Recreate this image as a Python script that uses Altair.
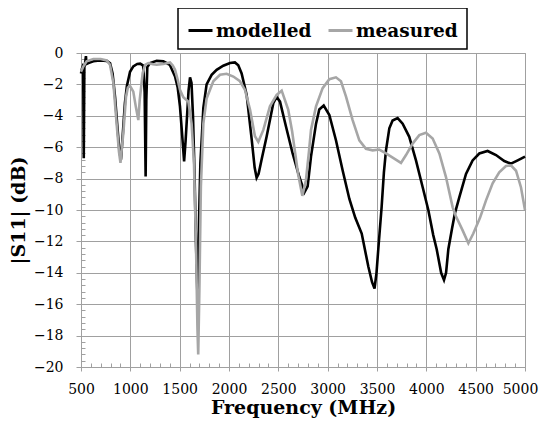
import altair as alt
import pandas as pd

# modelled (black)
mod_f = [500, 510, 518, 522, 528, 534, 542, 550, 556, 575, 625, 690, 760, 795, 820, 845, 870, 890, 905, 920, 945, 965, 997,
         1030, 1070, 1100, 1130, 1145, 1155, 1162, 1172, 1200, 1267, 1334, 1400, 1453, 1480, 1503, 1525, 1545, 1560, 1575,
         1590, 1605, 1620, 1635, 1650, 1665, 1680, 1695, 1710, 1725, 1740, 1773, 1824, 1875, 1942, 2010, 2060, 2094, 2128,
         2179, 2230, 2260, 2280, 2300, 2330, 2382, 2449, 2483, 2517, 2578, 2645, 2713, 2765, 2797, 2831, 2882, 2915, 2960,
         3017, 3084, 3152, 3220, 3280, 3345, 3412, 3450, 3475, 3495, 3513, 3547, 3570, 3591, 3625, 3658, 3709, 3760, 3827,
         3895, 3963, 4020, 4070, 4105, 4150, 4179, 4200, 4223, 4260, 4290, 4334, 4402, 4469, 4537, 4621, 4706, 4790, 4858,
         4926, 5000]
mod_db = [-1.3, -1.0, -0.85, -0.9, -6.7, -0.9, -0.6, -0.2, -0.7, -0.64, -0.52, -0.47, -0.5, -0.65, -1.3, -2.8, -4.8, -6.3,
          -6.8, -5.5, -3.2, -2.1, -1.2, -0.85, -0.7, -0.68, -0.8, -2.5, -7.86, -3.0, -0.9, -0.64, -0.5, -0.53, -0.75, -1.5,
          -2.2, -3.4, -5.2, -6.9, -5.6, -4.0, -2.4, -1.55, -1.9, -4.0, -7.5, -12.0, -15.4, -11.0, -7.0, -5.3, -3.5, -2.0,
          -1.39, -1.07, -0.81, -0.64, -0.6, -0.78, -1.3, -2.67, -5.5, -7.3, -7.95, -7.7, -6.8, -5.3, -3.2, -2.8, -3.1, -4.7,
          -6.4, -7.9, -8.87, -8.5, -6.6, -4.5, -3.6, -3.35, -3.95, -5.56, -7.48, -9.3, -10.5, -11.5, -13.6, -14.6, -15.0,
          -14.0, -12.5, -9.8, -7.6, -6.2, -4.8, -4.3, -4.15, -4.5, -5.34, -6.84, -8.55, -10.0, -11.6, -12.5, -14.0, -14.46,
          -14.0, -12.5, -11.2, -10.2, -9.2, -7.7, -6.84, -6.4, -6.24, -6.5, -6.88, -7.05, -6.84, -6.6]

# measured (grey)
mea_f = [500, 520, 557, 625, 700, 760, 794, 828, 861, 885, 900, 915, 929, 956, 975, 997, 1030, 1055, 1081, 1095, 1125,
         1150, 1182, 1230, 1267, 1334, 1402, 1430, 1453, 1480, 1503, 1537, 1588, 1621, 1645, 1665, 1680, 1688, 1700, 1715,
         1740, 1773, 1841, 1909, 1976, 2044, 2111, 2162, 2213, 2263, 2297, 2348, 2415, 2483, 2534, 2600, 2640, 2700, 2743,
         2780, 2810, 2831, 2882, 2949, 3017, 3084, 3135, 3186, 3253, 3321, 3388, 3456, 3523, 3591, 3675, 3743, 3794, 3861,
         3929, 3996, 4064, 4132, 4199, 4267, 4300, 4368, 4426, 4476, 4544, 4604, 4672, 4739, 4807, 4858, 4909, 4959, 5000]
mea_db = [-1.2, -0.9, -0.53, -0.38, -0.38, -0.47, -0.75, -1.9, -4.5, -6.3, -7.0, -6.0, -5.1, -2.8, -2.2, -2.1, -2.46, -3.4,
          -4.27, -3.0, -1.28, -0.75, -0.64, -0.72, -0.75, -0.7, -0.6, -0.8, -1.07, -1.7, -2.35, -2.82, -3.1, -4.5, -7.0,
          -12.0, -17.5, -19.2, -15.0, -8.5, -4.5, -2.9, -1.8, -1.39, -1.32, -1.5, -1.8, -2.35, -3.6, -5.3, -5.66, -4.9, -3.4,
          -2.67, -2.4, -3.6, -5.0, -7.7, -9.1, -8.1, -6.3, -4.9, -3.4, -2.24, -1.67, -1.55, -1.8, -2.78, -4.27, -5.56, -6.1,
          -6.2, -6.15, -6.4, -6.73, -7.0, -6.5, -5.77, -5.23, -5.08, -5.45, -6.4, -7.9, -9.83, -10.4, -11.3, -12.12, -11.5,
          -10.5, -9.4, -8.3, -7.6, -7.2, -7.16, -7.5, -8.55, -10.0]

series_names = ["modelled", "measured"]
series_colors = ["#000000", "#a6a6a6"]
x_ticks = [500, 1000, 1500, 2000, 2500, 3000, 3500, 4000, 4500, 5000]
y_ticks = [0, -2, -4, -6, -8, -10, -12, -14, -16, -18, -20]
x_minor = [v for v in range(600, 5000, 100) if v % 500 != 0]
y_minor = [round(-0.4 * i, 1) for i in range(1, 50) if i % 5 != 0]

df = pd.concat([
    pd.DataFrame({"series": "modelled", "freq": mod_f, "db": mod_db}),
    pd.DataFrame({"series": "measured", "freq": mea_f, "db": mea_db}),
])

FONT = "DejaVu Serif"
GRID = "#a0a0a0"

xs = alt.Scale(domain=[500, 5000], nice=False, zero=False)
ys = alt.Scale(domain=[-20, 0], nice=False, zero=False)
cs = alt.Scale(domain=series_names, range=series_colors)
leg = alt.Legend(orient="none", legendX=97, legendY=-45, direction="horizontal", title=None,
                 labelFont=FONT, labelFontSize=18.5, labelFontWeight="bold", labelColor="black",
                 symbolType="stroke", symbolStrokeWidth=3, symbolSize=576, labelOffset=2,
                 columnPadding=10, padding=9, strokeColor="black", fillColor="white")

x_main = alt.Axis(values=x_ticks, format="d", title="Frequency (MHz)", orient="bottom", labelFont=FONT,
                  labelFontSize=14, labelColor="black", tickSize=4, tickColor=GRID, domainColor=GRID,
                  gridColor=GRID, grid=True, labelPadding=11, titleFont=FONT, titleFontSize=19,
                  titleFontWeight="bold", titleColor="black", titlePadding=2, labelFlush=False,
                  labelOffset={"condition": {"test": "datum.value === 5000", "value": -5}, "value": 0})
y_main = alt.Axis(values=y_ticks, format="d", title="|S11| (dB)", orient="left", labelFont=FONT, labelFontSize=14,
                  labelColor="black", tickSize=5, tickColor=GRID, domainColor=GRID, gridColor=GRID, grid=True,
                  labelPadding=13, titleFont=FONT, titleFontSize=19, titleFontWeight="bold", titleColor="black",
                  titlePadding=5, labelFlush=False)

black = alt.Chart(df).transform_filter(alt.datum.series == "modelled").mark_line(strokeWidth=2.6).encode(
    x=alt.X("freq:Q", scale=xs, axis=x_main),
    y=alt.Y("db:Q", scale=ys, axis=y_main),
    color=alt.Color("series:N", scale=cs, legend=leg),
)
grey = alt.Chart(df).transform_filter(alt.datum.series == "measured").mark_line(strokeWidth=2.6).encode(
    x=alt.X("freq:Q", scale=xs, axis=None),
    y=alt.Y("db:Q", scale=ys, axis=None),
    color=alt.Color("series:N", scale=cs, legend=leg),
)
minor = alt.Chart(df).mark_line(opacity=0).encode(
    x=alt.X("freq:Q", scale=xs, axis=alt.Axis(values=x_minor, orient="bottom", offset=-4, tickSize=4,
                                              tickColor=GRID, labels=False, domain=False, grid=False, title=None)),
    y=alt.Y("db:Q", scale=ys, axis=alt.Axis(values=y_minor, orient="left", offset=-4, tickSize=4,
                                            tickColor=GRID, labels=False, domain=False, grid=False, title=None)),
    detail="series:N",
)

chart = alt.layer(minor, black, grey).resolve_axis(x="independent", y="independent").properties(
    width=444, height=314, autosize=alt.AutoSizeParams(type="none"),
    padding={"left": 73, "top": 45, "right": 14, "bottom": 54},
).configure_view(stroke=GRID).configure_legend(strokeWidth=1.5)

chart.save("out.html", embed_options={"renderer": "svg", "actions": False})
